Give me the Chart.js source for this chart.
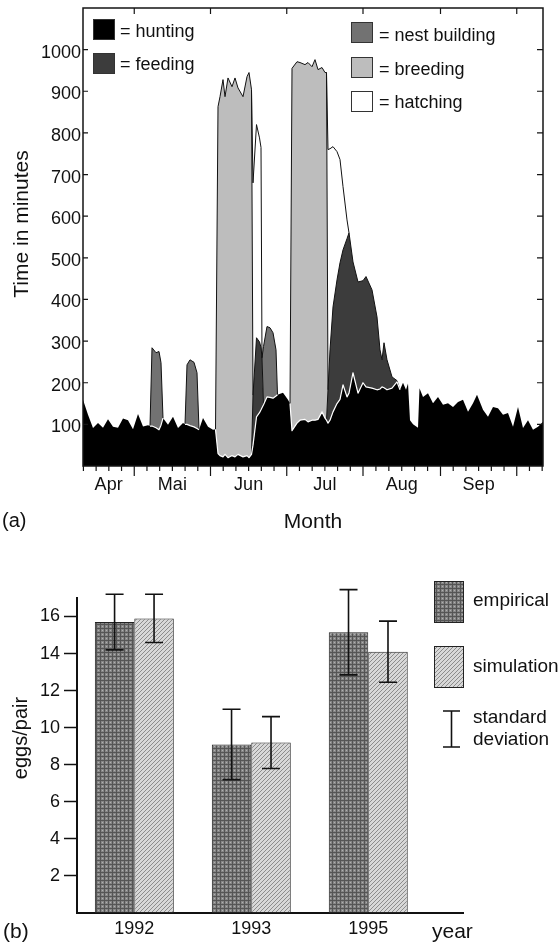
<!DOCTYPE html>
<html><head><meta charset="utf-8">
<script src="https://cdn.jsdelivr.net/npm/chart.js@4.4.1/dist/chart.umd.min.js"></script>
<style>
html,body{margin:0;padding:0;background:#fff;}
#wrap{position:relative;width:560px;height:945px;overflow:hidden;}
#c1{position:absolute;left:0;top:0;width:560px;height:540px;}
#c2{position:absolute;left:0;top:540px;width:560px;height:405px;}
</style></head><body>
<div id="wrap"><canvas id="c1" width="560" height="540"></canvas><canvas id="c2" width="560" height="405"></canvas></div>
<script>
// ---------- (a) time budget, days counted from ~10 April ----------
const days = [0,2,4,6,8,10,12,14,16,18,
  20,22,24,26,26.8,27.6,29.2,30.4,31.2,32,
  34,36,38,40,40.8,41.6,42.8,44.4,45.6,46.4,
  48,50,52,53,54,54.8,56,56.8,58,59.6,
  60.8,62,64,65.6,66.4,67.4,68,69.4,70.6,71.2,
  71.6,72.2,73.6,74.8,76,77.2,77.8,80,82,82.8,
  83.6,85.6,86.8,88.8,90,91.6,92.8,94,95.6,96.8,
  97.4,98,98.8,100,101.6,102.8,104,105.6,106.4,108,
  110,112,113.2,115.6,117.6,118.8,119.6,120.4,121.6,123.6,
  125.6,126.8,128,129.2,130,130.8,132,134,134.6,136,
  138,140,142,144,146,148,150,152,154,156,
  157.6,160,162,164,166,168,170,172,174,176,
  178,180,182,184];
const hunting = [159,123,91,103,92,112,94,92,114,110,
  88,125,95,98,96,96,92,87,98,115,
  99,118,91,103,100,100,97,94,90,87,
  115,94,87,88,30,25,22,28,20,25,
  22,28,22,25,20,28,50,118,128,135,
  140,147,166,165,163,168,171,176,159,150,
  85,103,110,112,106,110,110,112,130,115,
  110,103,110,130,150,160,195,166,175,224,
  175,200,190,187,183,185,190,188,183,187,
  202,183,200,183,198,110,100,92,187,166,
  175,151,166,147,151,142,154,159,130,151,
  171,135,118,142,139,123,127,94,142,91,
  110,87,94,106];
const feeding = [0,0,0,0,0,0,0,0,0,0,
  0,0,0,0,0,0,0,0,0,0,
  0,0,0,0,0,0,0,0,0,0,
  0,0,0,0,0,0,0,0,0,0,
  0,0,0,0,0,0,120,190,170,150,
  120,0,0,0,0,0,0,0,0,0,
  0,0,0,0,0,0,0,0,0,0,
  0,80,169,252,297,328,324,380,385,266,
  267,245,265,236,175,94,65,108,72,27,
  3,0,0,0,0,0,0,0,0,0,
  0,0,0,0,0,0,0,0,0,0,
  0,0,0,0,0,0,0,0,0,0,
  0,0,0,0];
const nestBuilding = [0,0,0,0,0,0,0,0,0,0,
  0,0,0,0,0,188,180,188,150,0,
  0,0,0,0,0,143,158,155,134,0,
  0,0,0,0,0,0,0,0,0,0,
  0,0,0,0,0,0,0,0,0,0,
  0,140,169,167,157,111,0,0,0,0,
  0,0,0,0,0,0,0,0,0,0,
  0,0,0,0,0,0,0,0,0,0,
  0,0,0,0,0,0,0,0,0,0,
  0,0,0,0,0,0,0,0,0,0,
  0,0,0,0,0,0,0,0,0,0,
  0,0,0,0,0,0,0,0,0,0,
  0,0,0,0];
const breeding = [0,0,0,0,0,0,0,0,0,0,
  0,0,0,0,0,0,0,0,0,0,
  0,0,0,0,0,0,0,0,0,0,
  0,0,0,0,833,862,906,859,912,886,
  910,880,865,910,925,876,0,0,0,0,
  0,0,0,0,0,0,0,0,0,0,
  870,868,859,852,863,849,866,840,827,830,
  835,0,0,0,0,0,0,0,0,0,
  0,0,0,0,0,0,0,0,0,0,
  0,0,0,0,0,0,0,0,0,0,
  0,0,0,0,0,0,0,0,0,0,
  0,0,0,0,0,0,0,0,0,0,
  0,0,0,0];
const hatching = [0,0,0,0,0,0,0,0,0,0,
  0,0,0,0,0,0,0,0,0,0,
  0,0,0,0,0,0,0,0,0,0,
  0,0,0,0,0,0,0,0,0,0,
  0,0,0,0,0,0,510,512,490,480,
  0,0,0,0,0,0,0,0,0,0,
  0,0,0,0,0,0,0,0,0,0,
  0,577,483,385,308,248,152,45,0,0,
  0,0,0,0,0,0,0,0,0,0,
  0,0,0,0,0,0,0,0,0,0,
  0,0,0,0,0,0,0,0,0,0,
  0,0,0,0,0,0,0,0,0,0,
  0,0,0,0];
const seriesNames = ['hunting','feeding','nest building','breeding','hatching'];
const seriesColors = ['#000000','#3c3c3c','#727272','#bdbdbd','#ffffff'];
const monthStarts = [20.5, 51, 81.5, 112, 143, 173.5];
const monthNames = ['Apr','Mai','Jun','Jul','Aug','Sep'];
const timeTicks = [100,200,300,400,500,600,700,800,900,1000];

// ---------- (b) eggs per pair ----------
const years = ['1992','1993','1995'];
const empirical = [15.7, 9.1, 15.15];
const empiricalSD = [1.5, 1.9, 2.3];
const simulation = [15.9, 9.2, 14.1];
const simulationSD = [1.3, 1.4, 1.65];
const eggTicks = [2,4,6,8,10,12,14,16];

const FONT = '"Liberation Sans", Arial, Helvetica, sans-serif';
Chart.defaults.font.family = FONT;
Chart.defaults.color = '#111';

// ----- chart (a) -----
const series = [hunting, feeding, nestBuilding, breeding, hatching];
const monthMid = monthStarts.map((d, i) => ((i === 0 ? 0 : monthStarts[i - 1]) + d) / 2);

function strokeWhere(ctx, pts, test) {
  ctx.beginPath();
  let down = false;
  for (let k = 0; k < pts.length - 1; k++) {
    if (test(k) || test(k + 1)) {
      if (!down) { ctx.moveTo(pts[k].x, pts[k].y); down = true; }
      ctx.lineTo(pts[k + 1].x, pts[k + 1].y);
    } else {
      down = false;
    }
  }
  ctx.stroke();
}

const outlineA = {
  id: 'outlineA',
  afterDatasetsDraw(chart) {
    const ctx = chart.ctx;
    const a = chart.chartArea;
    ctx.save();
    ctx.beginPath();
    ctx.rect(a.left, a.top, a.right - a.left, a.bottom - a.top);
    ctx.clip();
    ctx.lineJoin = 'round';
    for (let di = series.length - 1; di >= 1; di--) {
      const pts = chart.getDatasetMeta(di).data;
      ctx.strokeStyle = '#111';
      ctx.lineWidth = 1;
      strokeWhere(ctx, pts, k => series[di][k] > 0);
    }
    const hp = chart.getDatasetMeta(0).data;
    ctx.strokeStyle = '#ffffff';
    ctx.lineWidth = 1.2;
    strokeWhere(ctx, hp, k => series.slice(1).some(s => s[k] > 0));
    ctx.restore();
  }
};

const decoA = {
  id: 'decoA',
  afterDraw(chart) {
    const {ctx, chartArea: a, scales: {x, y}} = chart;
    ctx.save();
    ctx.strokeStyle = '#151515';
    ctx.lineWidth = 1.5;
    ctx.strokeRect(a.left, a.top, a.right - a.left, a.bottom - a.top);
    ctx.lineWidth = 1.2;
    ctx.beginPath();
    timeTicks.forEach(v => {
      const py = y.getPixelForValue(v);
      ctx.moveTo(a.left, py); ctx.lineTo(a.left + 5, py);
      ctx.moveTo(a.right, py); ctx.lineTo(a.right - 6, py);
    });
    monthStarts.forEach(d => {
      const px = x.getPixelForValue(d);
      ctx.moveTo(px, a.top); ctx.lineTo(px, a.top + 6);
      ctx.moveTo(px, a.bottom); ctx.lineTo(px, a.bottom + 10);
    });
    const minor = [];
    for (let i = 0; i < monthStarts.length - 1; i++) {
      const st = (monthStarts[i + 1] - monthStarts[i]) / 6;
      for (let k = 1; k < 6; k++) minor.push(monthStarts[i] + k * st);
    }
    const st0 = (monthStarts[1] - monthStarts[0]) / 6;
    for (let d = monthStarts[0] - st0; d >= x.min - 0.01; d -= st0) minor.push(d);
    const stN = (monthStarts[monthStarts.length - 1] - monthStarts[monthStarts.length - 2]) / 6;
    for (let d = monthStarts[monthStarts.length - 1] + stN; d <= x.max + 0.01; d += stN) minor.push(d);
    minor.forEach(d => {
      const px = x.getPixelForValue(d);
      ctx.moveTo(px, a.bottom); ctx.lineTo(px, a.bottom + 5);
    });
    ctx.stroke();

    // legend
    const items = [
      {i: 0, sx: 93, sy: 19, tx: 120, ty: 37},
      {i: 1, sx: 93, sy: 53, tx: 120, ty: 70},
      {i: 2, sx: 351, sy: 22, tx: 379, ty: 41},
      {i: 3, sx: 351, sy: 57, tx: 379, ty: 75},
      {i: 4, sx: 351, sy: 91, tx: 379, ty: 108}
    ];
    ctx.font = '18px ' + FONT;
    ctx.textBaseline = 'alphabetic';
    ctx.textAlign = 'left';
    items.forEach(it => {
      ctx.fillStyle = seriesColors[it.i];
      ctx.fillRect(it.sx, it.sy, 22, 21);
      ctx.strokeStyle = '#333';
      ctx.lineWidth = 1;
      ctx.strokeRect(it.sx + 0.5, it.sy + 0.5, 21, 20);
      ctx.fillStyle = '#111';
      ctx.fillText('= ' + seriesNames[it.i], it.tx, it.ty);
    });

    // titles
    ctx.font = '21px ' + FONT;
    ctx.fillStyle = '#111';
    ctx.textAlign = 'center';
    ctx.fillText('Month', 313, 528);
    ctx.save();
    ctx.translate(28, 224);
    ctx.rotate(-Math.PI / 2);
    ctx.fillText('Time in minutes', 0, 0);
    ctx.restore();
    ctx.textAlign = 'left';
    ctx.font = '20px ' + FONT;
    ctx.fillText('(a)', 2, 527);
    ctx.restore();
  }
};

new Chart(document.getElementById('c1'), {
  type: 'line',
  data: {
    labels: days,
    datasets: series.map((s, i) => ({
      label: seriesNames[i],
      data: s,
      backgroundColor: seriesColors[i],
      borderColor: 'rgba(0,0,0,0)',
      borderWidth: 0,
      fill: i === 0 ? 'origin' : '-1',
      pointRadius: 0,
      tension: 0
    }))
  },
  options: {
    responsive: false,
    animation: false,
    devicePixelRatio: 1,
    layout: {padding: {top: 8, right: 17, left: 0, bottom: 0}},
    plugins: {legend: {display: false}, tooltip: {enabled: false}},
    scales: {
      x: {
        type: 'linear', min: 0, max: 184,
        grid: {display: false, drawTicks: false},
        border: {display: false},
        afterBuildTicks: s => { s.ticks = monthMid.map(v => ({value: v})); },
        afterFit: s => { s.height = 74; s.paddingLeft = 0; s.paddingRight = 0; },
        ticks: {
          font: {size: 18}, padding: 8, maxRotation: 0, autoSkip: false, color: '#111',
          callback: (v, i) => monthNames[i]
        }
      },
      y: {
        stacked: true, min: 0, max: 1100,
        grid: {display: false, drawTicks: false},
        border: {display: false},
        afterBuildTicks: s => { s.ticks = timeTicks.map(v => ({value: v})); },
        afterFit: s => { s.width = 83; s.paddingTop = 0; s.paddingBottom = 0; },
        ticks: {font: {size: 18}, padding: 2, labelOffset: 3, color: '#111', autoSkip: false,
          callback: v => String(v)}
      }
    }
  },
  plugins: [outlineA, decoA]
});

// ----- chart (b) -----
const ctx2 = document.getElementById('c2').getContext('2d');
function makePattern(kind) {
  const c = document.createElement('canvas');
  c.width = 4; c.height = 4;
  const g = c.getContext('2d');
  if (kind === 'emp') {
    g.fillStyle = '#868686'; g.fillRect(0, 0, 4, 4);
    g.fillStyle = '#555555'; g.fillRect(0, 0, 4, 1); g.fillRect(0, 0, 1, 4);
    g.fillStyle = '#b0b0b0'; g.fillRect(2, 2, 1, 1);
  } else {
    g.fillStyle = '#d8d8d8'; g.fillRect(0, 0, 4, 4);
    g.fillStyle = '#8c8c8c';
    for (let i = 0; i < 4; i++) g.fillRect(i, 3 - i, 1, 1);
  }
  return ctx2.createPattern(c, 'repeat');
}
const empPattern = makePattern('emp');
const simPattern = makePattern('sim');

const decoB = {
  id: 'decoB',
  afterDatasetsDraw(chart) {
    const {ctx, scales: {y}} = chart;
    const sds = [empiricalSD, simulationSD];
    const means = [empirical, simulation];
    ctx.save();
    ctx.strokeStyle = '#111';
    ctx.lineWidth = 1.6;
    ctx.beginPath();
    [0, 1].forEach(di => {
      chart.getDatasetMeta(di).data.forEach((bar, j) => {
        const top = y.getPixelForValue(means[di][j] + sds[di][j]);
        const bot = y.getPixelForValue(means[di][j] - sds[di][j]);
        ctx.moveTo(bar.x, top); ctx.lineTo(bar.x, bot);
        ctx.moveTo(bar.x - 9, top); ctx.lineTo(bar.x + 9, top);
        ctx.moveTo(bar.x - 9, bot); ctx.lineTo(bar.x + 9, bot);
      });
    });
    ctx.stroke();
    ctx.restore();
  },
  afterDraw(chart) {
    const {ctx} = chart;
    ctx.save();
    // legend
    ctx.fillStyle = empPattern; ctx.fillRect(434, 41, 30, 42);
    ctx.strokeStyle = '#222'; ctx.lineWidth = 1;
    ctx.strokeRect(434.5, 41.5, 29, 41);
    ctx.fillStyle = simPattern; ctx.fillRect(434, 106, 30, 42);
    ctx.strokeRect(434.5, 106.5, 29, 41);
    ctx.strokeStyle = '#111'; ctx.lineWidth = 1.6;
    ctx.beginPath();
    ctx.moveTo(451.5, 171); ctx.lineTo(451.5, 207);
    ctx.moveTo(443, 171); ctx.lineTo(460, 171);
    ctx.moveTo(443, 207); ctx.lineTo(460, 207);
    ctx.stroke();
    ctx.fillStyle = '#111';
    ctx.font = '19px ' + FONT;
    ctx.textAlign = 'left';
    ctx.textBaseline = 'alphabetic';
    ctx.fillText('empirical', 473, 66);
    ctx.fillText('simulation', 473, 132);
    ctx.fillText('standard', 473, 183);
    ctx.fillText('deviation', 473, 205);
    // titles
    ctx.font = '21px ' + FONT;
    ctx.fillText('year', 432, 398);
    ctx.fillText('(b)', 3, 398);
    ctx.save();
    ctx.translate(27, 198);
    ctx.rotate(-Math.PI / 2);
    ctx.textAlign = 'center';
    ctx.font = '20px ' + FONT;
    ctx.fillText('eggs/pair', 0, 0);
    ctx.restore();
    ctx.restore();
  }
};

new Chart(document.getElementById('c2'), {
  type: 'bar',
  data: {
    datasets: [
      {label: 'empirical', data: empirical.map((v, i) => ({x: i, y: v})),
       backgroundColor: empPattern, borderColor: '#222', borderWidth: 1, borderSkipped: false},
      {label: 'simulation', data: simulation.map((v, i) => ({x: i, y: v})),
       backgroundColor: simPattern, borderColor: '#222', borderWidth: 1, borderSkipped: false}
    ]
  },
  options: {
    responsive: false,
    animation: false,
    devicePixelRatio: 1,
    categoryPercentage: 0.675,
    barPercentage: 1,
    layout: {padding: {top: 58, right: 97, left: 0, bottom: 0}},
    plugins: {legend: {display: false}, tooltip: {enabled: false}},
    scales: {
      x: {
        type: 'linear', min: -0.49, max: 2.81, offset: false,
        grid: {display: false, drawTicks: false, offset: false},
        border: {display: true, color: '#111', width: 2},
        afterBuildTicks: s => { s.ticks = years.map((v, i) => ({value: i})); },
        afterFit: s => { s.height = 32; s.paddingLeft = 0; s.paddingRight = 0; },
        ticks: {font: {size: 18}, padding: 5, color: '#111', maxRotation: 0,
          callback: v => years[Math.round(v)]}
      },
      y: {
        min: 0, max: 17,
        grid: {display: true, drawOnChartArea: false, drawTicks: true, tickLength: 13, tickColor: '#111', tickWidth: 1.5},
        border: {display: true, color: '#111', width: 2},
        afterBuildTicks: s => { s.ticks = eggTicks.map(v => ({value: v})); },
        afterFit: s => { s.width = 77; s.paddingTop = 0; s.paddingBottom = 0; },
        ticks: {font: {size: 18}, padding: 4, color: '#111'}
      }
    }
  },
  plugins: [decoB]
});
</script>
</body></html>
